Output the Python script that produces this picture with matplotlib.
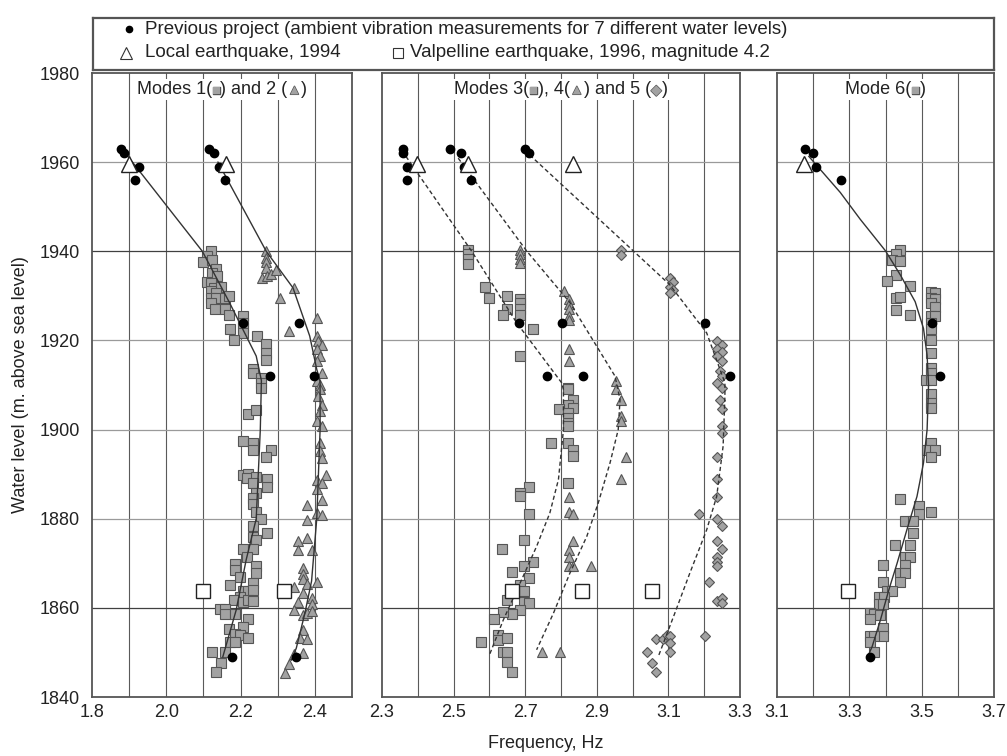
#!/usr/bin/env python3
"""Water level vs natural frequency of the dam, modes 1-6."""

import matplotlib
matplotlib.use("Agg")
import matplotlib.patheffects as pe
import matplotlib.pyplot as plt
from matplotlib.offsetbox import AnchoredOffsetbox, HPacker, TextArea

plt.rcParams["font.family"] = ["Liberation Sans", "DejaVu Sans"]

# ---------------------------------------------------------------- data
LEVELS = [1963, 1962, 1959, 1956, 1924, 1912, 1849]

# previous project (ambient vibration, black dots)
PREV_M1 = [1.878, 1.887, 1.927, 1.916, 2.206, 2.278, 2.178]
PREV_M2 = [2.116, 2.127, 2.143, 2.157, 2.358, 2.397, 2.348]
PREV_M3_F = [2.360, 2.360, 2.371, 2.371, 2.683, 2.760]
PREV_M3_H = [1963, 1962, 1959, 1956, 1924, 1912]
PREV_M4_F = [2.490, 2.520, 2.530, 2.550, 2.802, 2.861]
PREV_M4_H = [1963, 1962, 1959, 1956, 1924, 1912]
PREV_M5_F = [2.699, 2.712, 3.202, 3.272]
PREV_M5_H = [1963, 1962, 1924, 1912]
PREV_M6 = [3.178, 3.200, 3.209, 3.278, 3.529, 3.550, 3.358]

# local earthquake 1994 (open triangles)
EQ94_LEVEL = 1959.5
EQ94_P1 = [1.900, 2.161]
EQ94_P2 = [2.397, 2.541, 2.834]
EQ94_P3 = [3.174]

# Valpelline earthquake 1996 (open squares)
EQ96_LEVEL = 1863.7
EQ96_P1 = [2.098, 2.317]
EQ96_P2 = [2.662, 2.858, 3.053]
EQ96_P3 = [3.295]

# monitoring system, mode 1 (grey squares)
M1_F = [2.121, 2.109, 2.098, 2.123, 2.134, 2.123, 2.109, 2.136, 2.121, 2.127,
        2.148, 2.121, 2.134, 2.121, 2.134, 2.159, 2.170, 2.121, 2.132, 2.159,
        2.170, 2.206, 2.206, 2.206, 2.206, 2.172, 2.181, 2.244, 2.269, 2.269,
        2.269, 2.233, 2.233, 2.256, 2.256, 2.256, 2.220, 2.242, 2.206, 2.232,
        2.232, 2.281, 2.268, 2.206, 2.220, 2.217, 2.242, 2.232, 2.270, 2.270,
        2.242, 2.232, 2.232, 2.242, 2.256, 2.232, 2.270, 2.232, 2.242, 2.206,
        2.232, 2.217, 2.184, 2.184, 2.242, 2.242, 2.197, 2.172, 2.232, 2.206,
        2.220, 2.232, 2.197, 2.181, 2.206, 2.220, 2.232, 2.145, 2.157, 2.159,
        2.184, 2.220, 2.170, 2.206, 2.184, 2.197, 2.220, 2.172, 2.184, 2.159,
        2.122, 2.148, 2.134]
M1_H = [1940.1, 1939.0, 1937.7, 1938.1, 1936.0, 1935.2, 1933.1, 1934.5, 1933.0, 1931.8,
        1932.1, 1931.1, 1930.7, 1929.6, 1929.6, 1929.6, 1930.0, 1928.5, 1927.1, 1927.0,
        1925.8, 1925.5, 1924.0, 1922.8, 1921.7, 1922.5, 1920.1, 1921.0, 1919.1, 1917.2,
        1915.7, 1913.5, 1912.7, 1911.6, 1910.5, 1909.4, 1903.4, 1904.5, 1897.4, 1897.0,
        1895.5, 1895.4, 1893.9, 1889.9, 1890.1, 1889.1, 1889.4, 1888.0, 1889.0, 1887.1,
        1885.8, 1884.6, 1883.4, 1881.6, 1879.9, 1878.3, 1876.9, 1876.0, 1875.3, 1873.2,
        1873.2, 1871.5, 1869.8, 1868.5, 1869.3, 1867.9, 1866.9, 1865.2, 1865.5, 1863.9,
        1863.9, 1864.0, 1862.5, 1861.8, 1861.4, 1861.8, 1861.6, 1859.7, 1859.7, 1858.7,
        1858.7, 1857.5, 1855.2, 1855.8, 1854.2, 1853.9, 1853.2, 1852.4, 1852.4, 1850.2,
        1850.2, 1847.7, 1845.7]

# mode 2 (grey triangles)
M2_F = [2.269, 2.269, 2.269, 2.269, 2.258, 2.271, 2.283, 2.296, 2.343, 2.305,
        2.330, 2.405, 2.405, 2.409, 2.418, 2.405, 2.414, 2.405, 2.418, 2.405,
        2.414, 2.414, 2.409, 2.418, 2.414, 2.405, 2.418, 2.414, 2.414, 2.418,
        2.430, 2.405, 2.418, 2.405, 2.418, 2.379, 2.405, 2.418, 2.379, 2.355,
        2.379, 2.355, 2.391, 2.368, 2.368, 2.368, 2.379, 2.405, 2.343, 2.368,
        2.391, 2.355, 2.391, 2.343, 2.368, 2.379, 2.391, 2.368, 2.359, 2.379,
        2.368, 2.343, 2.330, 2.319]
M2_H = [1940.1, 1938.6, 1937.5, 1936.3, 1934.1, 1934.5, 1934.8, 1935.7, 1931.8, 1929.6,
        1922.1, 1925.1, 1921.0, 1919.9, 1918.9, 1918.1, 1916.6, 1915.4, 1912.7, 1910.9,
        1909.9, 1909.0, 1907.5, 1905.6, 1904.1, 1901.9, 1900.7, 1897.0, 1895.1, 1893.6,
        1889.9, 1888.8, 1888.0, 1886.7, 1884.3, 1883.1, 1881.3, 1880.9, 1879.8, 1874.9,
        1875.7, 1873.0, 1873.0, 1868.9, 1867.6, 1866.4, 1865.4, 1865.7, 1864.6, 1863.3,
        1862.2, 1861.4, 1860.9, 1859.6, 1858.4, 1858.8, 1859.2, 1855.1, 1853.2, 1853.0,
        1849.8, 1849.7, 1847.4, 1845.5]

# mode 3 (grey squares)
M3_F = [2.539, 2.539, 2.539, 2.539, 2.588, 2.600, 2.648, 2.648, 2.637, 2.685,
        2.685, 2.685, 2.685, 2.723, 2.685, 2.820, 2.820, 2.834, 2.820, 2.794,
        2.834, 2.820, 2.820, 2.820, 2.820, 2.772, 2.820, 2.833, 2.833, 2.820,
        2.712, 2.685, 2.685, 2.712, 2.697, 2.635, 2.723, 2.697, 2.662, 2.712,
        2.685, 2.697, 2.650, 2.697, 2.712, 2.685, 2.662, 2.637, 2.613, 2.625,
        2.625, 2.648, 2.576, 2.637, 2.648, 2.650, 2.662]
M3_H = [1940.3, 1939.3, 1938.3, 1937.1, 1932.1, 1929.6, 1930.0, 1927.0, 1925.8, 1929.4,
        1928.3, 1927.1, 1925.8, 1922.5, 1916.6, 1909.4, 1909.0, 1906.7, 1905.6, 1904.6,
        1904.9, 1903.7, 1902.6, 1901.5, 1900.7, 1897.0, 1897.0, 1895.4, 1894.0, 1888.0,
        1887.1, 1885.8, 1885.0, 1881.1, 1875.3, 1873.2, 1870.4, 1869.3, 1868.0, 1866.8,
        1865.2, 1863.7, 1861.8, 1861.4, 1861.2, 1859.6, 1858.7, 1859.0, 1857.5, 1853.9,
        1852.8, 1853.2, 1852.3, 1850.2, 1850.2, 1847.9, 1845.7]

# mode 4 (grey triangles)
M4_F = [2.687, 2.687, 2.687, 2.687, 2.808, 2.822, 2.822, 2.822, 2.822, 2.822,
        2.822, 2.822, 2.955, 2.955, 2.967, 2.967, 2.967, 2.981, 2.967, 2.822,
        2.822, 2.834, 2.834, 2.822, 2.822, 2.822, 2.834, 2.883, 2.748, 2.797]
M4_H = [1940.3, 1939.3, 1938.3, 1937.3, 1931.1, 1929.2, 1928.1, 1927.0, 1925.5, 1924.6,
        1918.0, 1915.4, 1910.9, 1909.0, 1906.7, 1903.1, 1901.9, 1893.9, 1889.0, 1884.9,
        1881.6, 1881.1, 1875.1, 1873.0, 1871.5, 1869.3, 1869.3, 1869.4, 1850.0, 1850.0]

# mode 5 (grey diamonds)
M5_F = [2.967, 2.967, 3.104, 3.113, 3.104, 3.113, 3.104, 3.237, 3.249, 3.237,
        3.249, 3.237, 3.249, 3.244, 3.249, 3.235, 3.249, 3.244, 3.249, 3.249,
        3.249, 3.237, 3.237, 3.237, 3.186, 3.237, 3.249, 3.237, 3.249, 3.237,
        3.237, 3.237, 3.214, 3.237, 3.249, 3.249, 3.202, 3.065, 3.086, 3.095,
        3.104, 3.104, 3.041, 3.104, 3.053, 3.065]
M5_H = [1940.3, 1939.2, 1934.0, 1933.2, 1932.1, 1931.4, 1930.6, 1919.9, 1918.9, 1918.1,
        1917.4, 1916.5, 1915.4, 1913.1, 1912.0, 1910.5, 1909.4, 1906.7, 1904.6, 1900.7,
        1899.3, 1893.9, 1889.0, 1884.9, 1881.1, 1879.9, 1878.3, 1875.1, 1873.2, 1871.4,
        1870.4, 1869.3, 1865.7, 1861.6, 1862.2, 1861.0, 1853.7, 1853.0, 1853.1, 1853.9,
        1853.7, 1852.2, 1850.0, 1850.0, 1847.7, 1845.6]

# mode 6 (grey squares)
M6_F = [3.441, 3.430, 3.418, 3.441, 3.430, 3.404, 3.467, 3.526, 3.538, 3.526,
        3.538, 3.430, 3.441, 3.526, 3.538, 3.430, 3.467, 3.526, 3.538, 3.526,
        3.526, 3.526, 3.526, 3.526, 3.526, 3.513, 3.526, 3.526, 3.526, 3.526,
        3.526, 3.515, 3.538, 3.526, 3.441, 3.492, 3.492, 3.526, 3.455, 3.476,
        3.476, 3.427, 3.467, 3.455, 3.467, 3.455, 3.393, 3.441, 3.455, 3.393,
        3.441, 3.404, 3.418, 3.381, 3.397, 3.381, 3.393, 3.358, 3.369, 3.384,
        3.358, 3.393, 3.393, 3.358, 3.369, 3.358, 3.369]
M6_H = [1940.3, 1939.3, 1938.0, 1937.8, 1934.6, 1933.3, 1932.2, 1930.8, 1930.7, 1929.6,
        1929.4, 1929.6, 1929.7, 1928.4, 1927.4, 1926.8, 1925.8, 1925.5, 1925.5, 1924.0,
        1922.5, 1920.1, 1917.1, 1913.9, 1912.7, 1911.1, 1911.1, 1907.9, 1906.0, 1904.9,
        1896.9, 1895.4, 1895.4, 1893.9, 1884.5, 1882.9, 1881.1, 1881.6, 1879.4, 1879.4,
        1876.9, 1874.2, 1874.0, 1871.5, 1871.5, 1869.7, 1869.7, 1867.9, 1867.9, 1865.7,
        1865.7, 1863.9, 1863.9, 1862.4, 1862.4, 1860.9, 1860.9, 1858.8, 1858.6, 1858.4,
        1857.5, 1855.4, 1853.7, 1853.7, 1853.7, 1852.4, 1850.2]

# fitted trend lines
FIT_M1_F = [1.890, 2.097, 2.170, 2.242, 2.256, 2.253, 2.242, 2.215, 2.188, 2.152]
FIT_M1_H = [1962.0, 1940.0, 1928.5, 1916.5, 1911.0, 1900.0, 1880.0, 1870.8, 1859.5, 1849.0]
FIT_M2_F = [2.139, 2.269, 2.341, 2.386, 2.405, 2.414, 2.414, 2.405, 2.391, 2.373, 2.350, 2.337]
FIT_M2_H = [1960.0, 1940.0, 1931.8, 1921.0, 1913.5, 1911.0, 1900.0, 1880.0, 1866.0, 1858.8, 1851.0, 1848.3]
FIT_M3_F = [2.367, 2.550, 2.676, 2.760, 2.802, 2.807, 2.807, 2.793, 2.769, 2.732, 2.690, 2.639, 2.600]
FIT_M3_H = [1961.3, 1940.1, 1924.0, 1915.0, 1910.5, 1909.0, 1900.0, 1888.8, 1881.3, 1873.8, 1866.3, 1857.3, 1849.4]
FIT_M4_F = [2.513, 2.704, 2.825, 2.951, 2.965, 2.960, 2.937, 2.904, 2.872, 2.825, 2.779, 2.732]
FIT_M4_H = [1960.9, 1940.1, 1928.5, 1912.0, 1906.7, 1900.0, 1892.5, 1883.5, 1876.0, 1867.8, 1858.8, 1850.6]
FIT_M5_F = [2.713, 3.002, 3.104, 3.207, 3.258, 3.258, 3.253, 3.235, 3.207, 3.160, 3.118, 3.072]
FIT_M5_H = [1961.6, 1940.1, 1932.5, 1921.7, 1910.5, 1907.5, 1896.3, 1885.0, 1877.5, 1867.8, 1858.8, 1849.1]
FIT_M6_F = [3.188, 3.275, 3.330, 3.400, 3.441, 3.482, 3.505, 3.515, 3.519, 3.515,
            3.505, 3.487, 3.459, 3.432, 3.409, 3.386, 3.363, 3.351]
FIT_M6_H = [1961.3, 1953.2, 1947.2, 1940.1, 1934.7, 1928.7, 1922.7, 1916.7, 1910.0, 1900.0,
            1892.5, 1885.0, 1877.5, 1870.0, 1864.0, 1857.3, 1851.3, 1849.1]

Y_TICKS = [1840, 1860, 1880, 1900, 1920, 1940, 1960, 1980]
PANEL_XLIM = [(1.8, 2.5), (2.3, 3.3), (3.1, 3.7)]

# ---------------------------------------------------------------- style
GREY_FILL = "#a2a2a2"
GREY_EDGE = "#555555"
GRID_DARK = "#404040"
GRID_LIGHT = "#9a9a9a"
TEXT = "#222222"
FONT = 13
LEGEND_FONT = 13.5


def setup_panel(ax, xlim, label_y):
    lo, hi = xlim
    n = int(round((hi - lo) * 10))
    xt = [round(lo + 0.1 * i, 1) for i in range(n + 1)]
    ax.set_xlim(lo, hi)
    ax.set_ylim(1840, 1980)
    ax.set_xticks(xt)
    ax.set_xticklabels([f"{v:.1f}" if i % 2 == 0 else "" for i, v in enumerate(xt)])
    ax.set_yticks(Y_TICKS)
    if not label_y:
        ax.set_yticklabels([])
    ax.tick_params(length=0, labelsize=FONT, colors=TEXT)
    ax.tick_params(axis="x", pad=5)
    ax.tick_params(axis="y", pad=8.5)
    for v in xt[1:-1]:
        ax.axvline(v, color="#5a5a5a", lw=0.8, zorder=0)
    for h in Y_TICKS[1:-1]:
        dark = h in (1940, 1860)
        ax.axhline(h, color=GRID_DARK if dark else GRID_LIGHT, lw=0.9, zorder=0)
    for s in ax.spines.values():
        s.set_color("#555555")
        s.set_linewidth(1.3)


def panel_title(ax, parts):
    boxes = []
    for t, is_glyph in parts:
        if is_glyph:
            props = dict(color=GREY_FILL, fontsize=10,
                         path_effects=[pe.Stroke(linewidth=1.0, foreground=GREY_EDGE), pe.Normal()])
        else:
            props = dict(color=TEXT, fontsize=FONT)
        boxes.append(TextArea(t, textprops=props))
    pack = HPacker(children=boxes, align="baseline", pad=0, sep=0)
    box = AnchoredOffsetbox(loc="upper center", child=pack, pad=0.15, borderpad=0,
                            frameon=True, bbox_to_anchor=(0.5, 0.99),
                            bbox_transform=ax.transAxes)
    box.patch.set_facecolor("white")
    box.patch.set_edgecolor("none")
    box.set_zorder(6)
    ax.add_artist(box)


def grey(ax, f, h, marker, ms=6.5):
    ax.plot(f, h, ls="none", marker=marker, ms=ms, mfc=GREY_FILL, mec=GREY_EDGE,
            mew=0.8, zorder=2)


def dots(ax, f, h):
    ax.plot(f, h, ls="none", marker="o", ms=6, mfc="black", mec="black", zorder=4)


def quake(ax, f, level, marker):
    ax.plot(f, [level] * len(f), ls="none", marker=marker, ms=11 if marker == "^" else 10,
            mfc="white", mec="#222222", mew=1.0, zorder=5)


def main():
    fig = plt.figure(figsize=(10.07, 7.56), dpi=100)
    bottom, height = 0.078, 0.8254
    ax1 = fig.add_axes([0.0914, bottom, 0.2582, height])
    ax2 = fig.add_axes([0.3793, bottom, 0.3555, height])
    ax3 = fig.add_axes([0.7716, bottom, 0.2155, height])

    for ax, xlim, lab in zip((ax1, ax2, ax3), PANEL_XLIM, (True, False, False)):
        setup_panel(ax, xlim, lab)

    # panel 1: modes 1 and 2
    grey(ax1, M1_F, M1_H, "s")
    grey(ax1, M2_F, M2_H, "^", ms=7)
    ax1.plot(FIT_M1_F, FIT_M1_H, color="#333333", lw=1.0, zorder=3)
    ax1.plot(FIT_M2_F, FIT_M2_H, color="#333333", lw=1.0, zorder=3)
    dots(ax1, PREV_M1, LEVELS)
    dots(ax1, PREV_M2, LEVELS)
    quake(ax1, EQ94_P1, EQ94_LEVEL, "^")
    quake(ax1, EQ96_P1, EQ96_LEVEL, "s")

    # panel 2: modes 3, 4 and 5
    grey(ax2, M3_F, M3_H, "s")
    grey(ax2, M4_F, M4_H, "^", ms=7)
    grey(ax2, M5_F, M5_H, "D", ms=5.5)
    for f, h in ((FIT_M3_F, FIT_M3_H), (FIT_M4_F, FIT_M4_H), (FIT_M5_F, FIT_M5_H)):
        ax2.plot(f, h, color="#333333", lw=1.0, ls=(0, (3, 2)), zorder=3)
    dots(ax2, PREV_M3_F, PREV_M3_H)
    dots(ax2, PREV_M4_F, PREV_M4_H)
    dots(ax2, PREV_M5_F, PREV_M5_H)
    quake(ax2, EQ94_P2, EQ94_LEVEL, "^")
    quake(ax2, EQ96_P2, EQ96_LEVEL, "s")

    # panel 3: mode 6
    grey(ax3, M6_F, M6_H, "s")
    ax3.plot(FIT_M6_F, FIT_M6_H, color="#333333", lw=1.0, zorder=3)
    dots(ax3, PREV_M6, LEVELS)
    quake(ax3, EQ94_P3, EQ94_LEVEL, "^")
    quake(ax3, EQ96_P3, EQ96_LEVEL, "s")

    sq, tri, dia = "\u25a0", "\u25b2", "\u25c6"
    panel_title(ax1, [("Modes 1(", False), (sq, True), (") and 2 (", False), (tri, True), (")", False)])
    panel_title(ax2, [("Modes 3(", False), (sq, True), ("), 4(", False), (tri, True),
                      (") and 5 (", False), (dia, True), (")", False)])
    panel_title(ax3, [("Mode 6(", False), (sq, True), (")", False)])

    ax1.set_ylabel("Water level (m. above sea level)", fontsize=FONT, labelpad=8, color=TEXT)
    fig.text(0.542, 0.017, "Frequency, Hz", ha="center", va="center", fontsize=FONT, color=TEXT)

    # legend box across the top
    lg = fig.add_axes([0.0924, 0.9074, 0.8947, 0.0688])
    lg.set_xlim(0, 1)
    lg.set_ylim(0, 1)
    lg.set_xticks([])
    lg.set_yticks([])
    for s in lg.spines.values():
        s.set_color("#555555")
        s.set_linewidth(1.6)
    lg.plot([0.040], [0.78], "o", ms=4.5, color="black")
    lg.text(0.058, 0.78, "Previous project (ambient vibration measurements for 7 different water levels)",
            va="center", fontsize=LEGEND_FONT, color=TEXT)
    lg.plot([0.037], [0.33], "^", ms=8, mfc="white", mec="#333333", mew=0.8)
    lg.text(0.058, 0.33, "Local earthquake, 1994", va="center", fontsize=LEGEND_FONT, color=TEXT)
    lg.plot([0.338], [0.33], "s", ms=7, mfc="white", mec="#333333", mew=0.8)
    lg.text(0.352, 0.33, "Valpelline earthquake, 1996, magnitude 4.2", va="center",
            fontsize=LEGEND_FONT, color=TEXT)

    fig.savefig("out.png", dpi=100)
    plt.close(fig)


if __name__ == "__main__":
    main()
